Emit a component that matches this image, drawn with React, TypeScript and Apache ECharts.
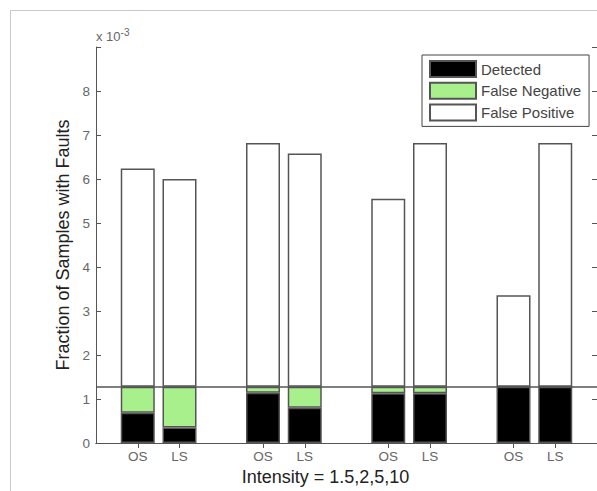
import React, { useEffect, useRef } from "react";
import * as echarts from "echarts";

const categories = ["OS", "LS", "OS", "LS", "OS", "LS", "OS", "LS"];
const positions = [1, 2, 4, 5, 7, 8, 10, 11];
const slotCount = 13;
const detected = [0.69, 0.35, 1.14, 0.8, 1.13, 1.13, 1.28, 1.28];
const falseNegative = [0.59, 0.93, 0.14, 0.48, 0.15, 0.15, 0, 0];
const falsePositive = [4.96, 4.72, 5.54, 5.3, 4.27, 5.54, 2.08, 5.54];
const threshold = 1.28;
const yTickLabels = ["0", "1", "2", "3", "4", "5", "6", "7", "8", ""];

const slots = Array.from({ length: slotCount }, (_, i) => String(i));
const spread = (vals: number[]) =>
  slots.map((_, i) => {
    const k = positions.indexOf(i);
    return k >= 0 ? vals[k] : "-";
  });

export default function App() {
  const ref = useRef<HTMLDivElement>(null);
  useEffect(() => {
    if (!ref.current) return;
    const chart = echarts.init(ref.current, null, { renderer: "svg" });
    const axisColor = "#555";
    const labelColor = "#666";
    const font = "Liberation Sans, Arial, sans-serif";
    const barBorder = { borderColor: "#555", borderWidth: 1.5 };
    const tickFilter = (i: number) => positions.indexOf(i) >= 0;
    const yTickStyle = {
      show: true,
      inside: true,
      length: 5,
      lineStyle: { color: axisColor },
    };
    chart.setOption({
      animation: false,
      backgroundColor: "#fff",
      textStyle: { fontFamily: font },
      grid: { left: 96, right: 0, top: 47, bottom: 48 },
      legend: {
        orient: "vertical",
        left: 422,
        top: 55,
        padding: [5, 8, 5, 7],
        itemGap: 3.7,
        itemWidth: 46,
        itemHeight: 16,
        icon: "rect",
        borderColor: "#444",
        borderWidth: 1,
        backgroundColor: "#fff",
        textStyle: { fontSize: 15, lineHeight: 16, color: "#444", fontFamily: font },
        data: ["Detected", "False Negative", "False Positive"],
      },
      xAxis: [
        {
          type: "category",
          position: "bottom",
          data: slots,
          boundaryGap: false,
          splitLine: { show: false },
          axisLine: { lineStyle: { color: axisColor, width: 1 } },
          axisTick: {
            inside: true,
            length: 5,
            interval: tickFilter,
            lineStyle: { color: axisColor },
          },
          axisLabel: {
            interval: 0,
            formatter: (_v: string, i: number) => {
              const k = positions.indexOf(i);
              return k >= 0 ? categories[k] : "";
            },
            color: labelColor,
            fontSize: 13.5,
            margin: 6,
          },
          name: "Intensity = 1.5,2,5,10",
          nameLocation: "middle",
          nameGap: 24,
          nameTextStyle: {
            fontSize: 18,
            color: "#222",
            padding: [0, 42, 0, 0],
          },
        },
        {
          type: "category",
          position: "top",
          data: slots,
          boundaryGap: false,
          splitLine: { show: false },
          axisLine: { lineStyle: { color: axisColor, width: 1 } },
          axisTick: {
            inside: true,
            length: 5,
            interval: tickFilter,
            lineStyle: { color: axisColor },
          },
          axisLabel: { show: false },
        },
      ],
      yAxis: [
        {
          type: "value",
          position: "left",
          min: 0,
          max: 9,
          interval: 1,
          splitLine: { show: false },
          axisLine: { show: true, onZero: false, lineStyle: { color: axisColor, width: 1 } },
          axisTick: yTickStyle,
          axisLabel: {
            formatter: (v: number) => yTickLabels[Math.round(v)] ?? "",
            color: labelColor,
            fontSize: 13.5,
            margin: 6,
          },
          name: "Fraction of Samples with Faults",
          nameLocation: "middle",
          nameGap: 24,
          nameTextStyle: { fontSize: 18, color: "#222" },
        },
        {
          type: "value",
          position: "right",
          min: 0,
          max: 9,
          interval: 1,
          splitLine: { show: false },
          axisLine: { show: true, onZero: false, lineStyle: { color: axisColor, width: 1 } },
          axisTick: yTickStyle,
          axisLabel: { show: false },
        },
        {
          type: "value",
          position: "left",
          offset: -5,
          min: 0,
          max: 9,
          interval: 1,
          splitLine: { show: false },
          axisLine: { show: false, onZero: false },
          axisTick: { show: true, inside: false, length: 5, lineStyle: { color: axisColor } },
          axisLabel: { show: false },
        },
      ],
      graphic: [
        {
          type: "rect",
          shape: { x: 10.5, y: 10.5, width: 700, height: 700 },
          style: { fill: "none", stroke: "#c8c8c8", lineWidth: 1 },
          silent: true,
          z: -10,
        },
        {
          type: "text",
          x: 96,
          y: 27,
          style: {
            text: "x 10{sup|-3}",
            fill: labelColor,
            fontSize: 13,
            fontFamily: font,
            rich: {
              sup: { fontSize: 10, fill: labelColor, verticalAlign: "top", padding: [0, 0, 8, 0] },
            },
          },
        },
      ],
      series: [
        {
          name: "Detected",
          type: "bar",
          stack: "total",
          barWidth: 34,
          data: spread(detected),
          itemStyle: { color: "#000", ...barBorder },
        },
        {
          name: "False Negative",
          type: "bar",
          stack: "total",
          barWidth: 34,
          data: spread(falseNegative),
          itemStyle: { color: "#a8f08c", ...barBorder },
        },
        {
          name: "False Positive",
          type: "bar",
          stack: "total",
          barWidth: 34,
          data: spread(falsePositive),
          itemStyle: { color: "#fff", ...barBorder },
          markLine: {
            silent: true,
            symbol: "none",
            label: { show: false },
            lineStyle: { color: "#555", width: 1.5, type: "solid" },
            data: [{ yAxis: threshold }],
          },
        },
      ],
    });
    return () => chart.dispose();
  }, []);
  return (
    <div style={{ position: "absolute", left: 0, top: 0, width: 597, height: 491, overflow: "hidden" }}>
      <div ref={ref} style={{ width: 600, height: 491 }} />
    </div>
  );
}
